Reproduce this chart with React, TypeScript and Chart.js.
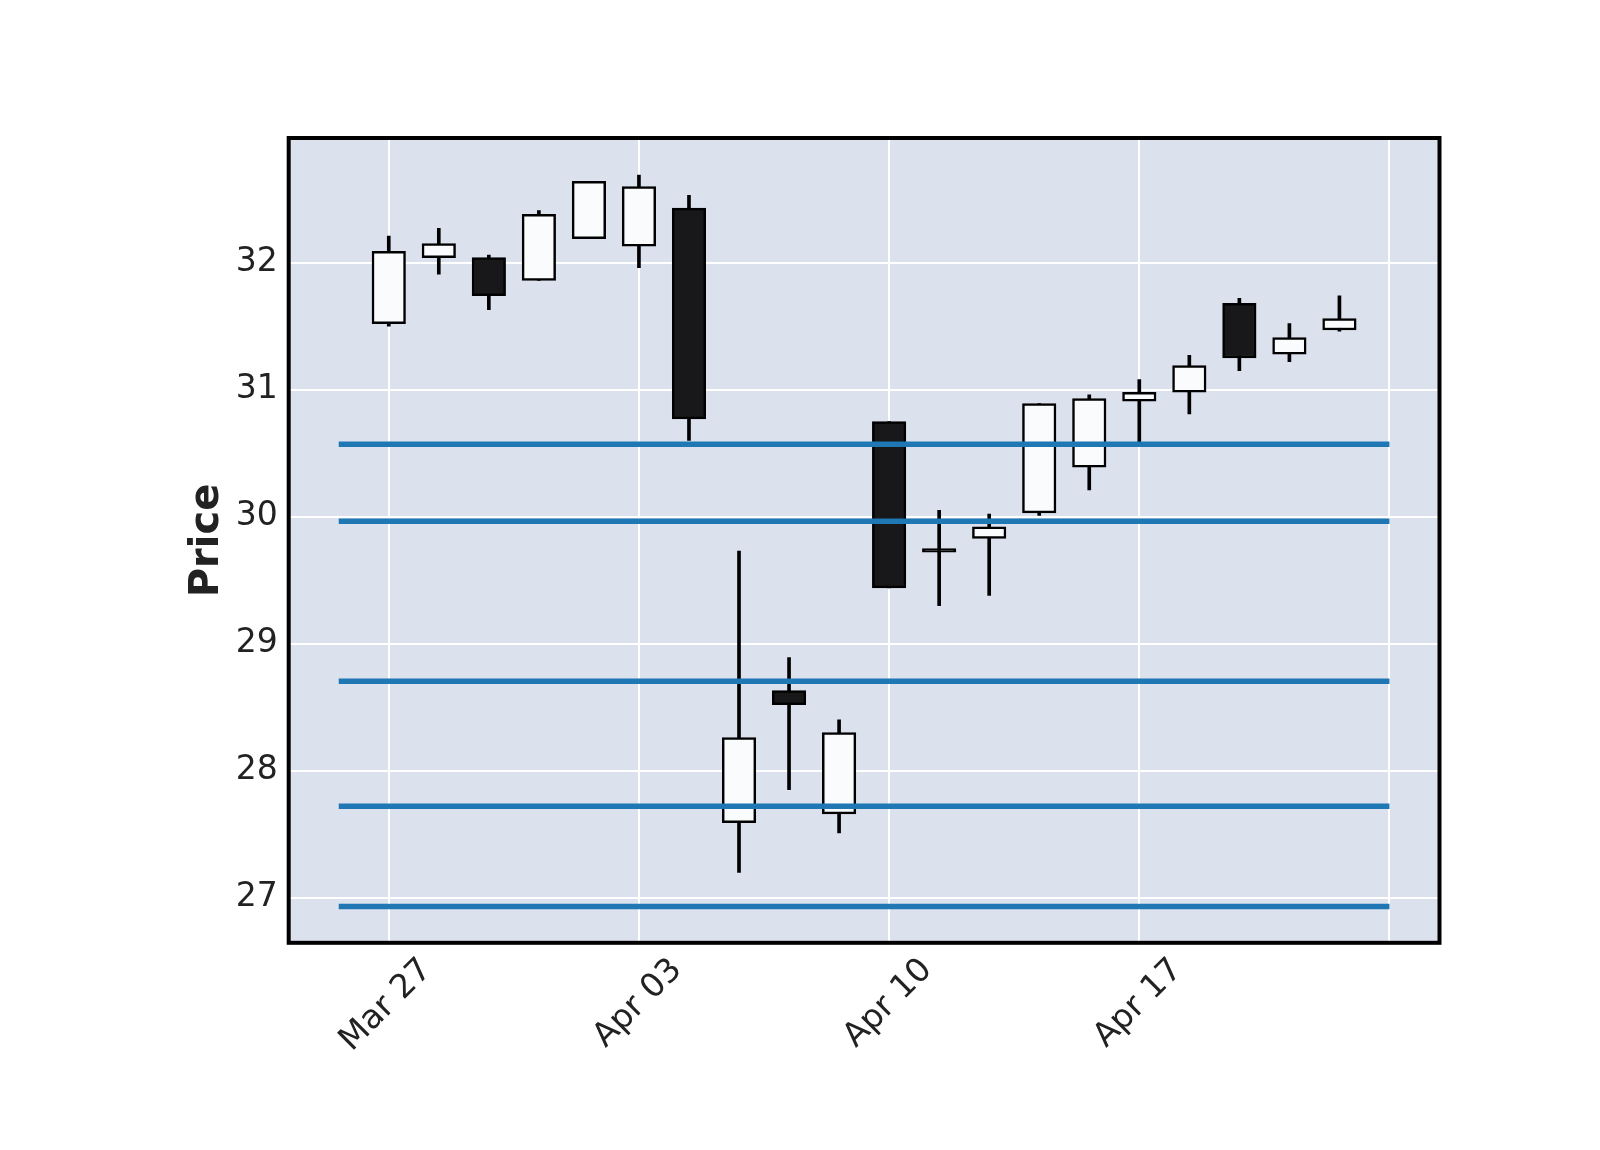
import React, { useEffect, useRef } from 'react';
import { Chart, registerables } from 'chart.js';

Chart.register(...registerables);

const dates = ['Mar 27', 'Mar 28', 'Mar 29', 'Mar 30', 'Mar 31', 'Apr 03', 'Apr 04', 'Apr 05', 'Apr 06', 'Apr 07',
  'Apr 10', 'Apr 11', 'Apr 12', 'Apr 13', 'Apr 14', 'Apr 17', 'Apr 18', 'Apr 19', 'Apr 20', 'Apr 21'];
const opens = [31.52, 32.04, 32.04, 31.86, 32.19, 32.13, 32.43, 27.59, 28.63, 27.66,
  30.75, 29.75, 29.83, 30.03, 30.39, 30.91, 30.98, 31.68, 31.28, 31.47];
const highs = [32.21, 32.27, 32.06, 32.41, 32.64, 32.69, 32.53, 29.73, 28.89, 28.40,
  30.75, 30.05, 30.02, 30.89, 30.96, 31.08, 31.27, 31.72, 31.52, 31.74];
const lows = [31.50, 31.91, 31.63, 31.86, 32.19, 31.96, 30.60, 27.20, 27.85, 27.51,
  29.44, 29.30, 29.38, 30.01, 30.21, 30.59, 30.81, 31.15, 31.22, 31.46];
const closes = [32.09, 32.15, 31.74, 32.38, 32.64, 32.60, 30.77, 28.26, 28.52, 28.30,
  29.44, 29.72, 29.92, 30.89, 30.93, 30.98, 31.19, 31.25, 31.41, 31.56];
const levels = [30.57, 29.965, 28.705, 27.72, 26.93];
const levelStart = -1;
const levelEnd = 20;
const xTickValues = [0, 5, 10, 15, 20];
const yTickValues = [27, 28, 29, 30, 31, 32];

const framePlugin = {
  id: 'frame',
  beforeDraw(chart: any) {
    const { ctx, chartArea: a } = chart;
    ctx.save();
    ctx.fillStyle = '#dce1ee';
    ctx.fillRect(a.left, a.top, a.right - a.left, a.bottom - a.top);
    ctx.restore();
  },
  afterDraw(chart: any) {
    const { ctx, chartArea: a } = chart;
    ctx.save();
    ctx.strokeStyle = '#000';
    ctx.lineWidth = 4;
    ctx.strokeRect(a.left, a.top, a.right - a.left, a.bottom - a.top);
    ctx.restore();
  },
};

export default function App() {
  const ref = useRef<HTMLCanvasElement>(null);

  useEffect(() => {
    if (!ref.current) return;
    Chart.defaults.font.family = 'DejaVu Sans';
    const bodies = dates.map((_, i) => ({ x: i, y: [opens[i], closes[i]] }));
    const wicks = dates.map((_, i) => ({ x: i, y: [lows[i], highs[i]] }));
    const bodyColors = dates.map((_, i) => (closes[i] >= opens[i] ? '#fafbfd' : '#18181a'));

    const datasets: any[] = [
      {
        type: 'bar',
        data: bodies,
        order: 1,
        grouped: false,
        barThickness: 33.5,
        backgroundColor: bodyColors,
        borderColor: '#000',
        borderWidth: 2.5,
        borderSkipped: false,
      },
      {
        type: 'bar',
        data: wicks,
        order: 2,
        grouped: false,
        barThickness: 3,
        backgroundColor: '#000',
        borderWidth: 0,
      },
      ...levels.map((v) => ({
        type: 'line',
        data: [{ x: levelStart, y: v }, { x: levelEnd, y: v }],
        order: 0,
        borderColor: '#1f77b4',
        borderWidth: 5.5,
        pointRadius: 0,
        fill: false,
        tension: 0,
      })),
    ];

    const chart = new Chart(ref.current, {
      type: 'bar',
      data: { datasets },
      plugins: [framePlugin],
      options: {
        animation: false,
        responsive: true,
        maintainAspectRatio: false,
        layout: { padding: { left: 184, top: 138, right: 160.5, bottom: 0 } },
        plugins: { legend: { display: false }, tooltip: { enabled: false } },
        scales: {
          x: {
            type: 'linear',
            min: -2,
            max: 21,
            offset: false,
            afterBuildTicks: (s: any) => { s.ticks = xTickValues.map((v) => ({ value: v })); },
            afterFit: (s: any) => { s.height = 207.2; },
            grid: { color: '#ffffff', lineWidth: 2, drawTicks: false, offset: false },
            border: { display: false },
            ticks: {
              autoSkip: false,
              minRotation: 45,
              maxRotation: 45,
              labelOffset: 38,
              padding: 8,
              color: '#222',
              font: { family: 'DejaVu Sans', size: 33 },
              callback: (v: any) => dates[v as number] ?? '',
            },
          },
          y: {
            type: 'linear',
            min: 26.645,
            max: 32.982,
            afterBuildTicks: (s: any) => { s.ticks = yTickValues.map((v) => ({ value: v })); },
            afterFit: (s: any) => { s.width = 104.7; },
            grid: { color: '#ffffff', lineWidth: 2, drawTicks: false },
            border: { display: false },
            ticks: {
              padding: 11,
              color: '#222',
              font: { family: 'DejaVu Sans', size: 33 },
              callback: (v: any) => String(v),
            },
            title: {
              display: true,
              text: 'Price',
              color: '#222',
              padding: 0,
              font: { family: 'DejaVu Sans', size: 40, weight: 'bold' },
            },
          },
        },
      } as any,
    });
    return () => chart.destroy();
  }, []);

  return (
    <div style={{ position: 'fixed', left: 0, top: 0, width: 1600, height: 1150, background: '#fff' }}>
      <canvas ref={ref} />
    </div>
  );
}
